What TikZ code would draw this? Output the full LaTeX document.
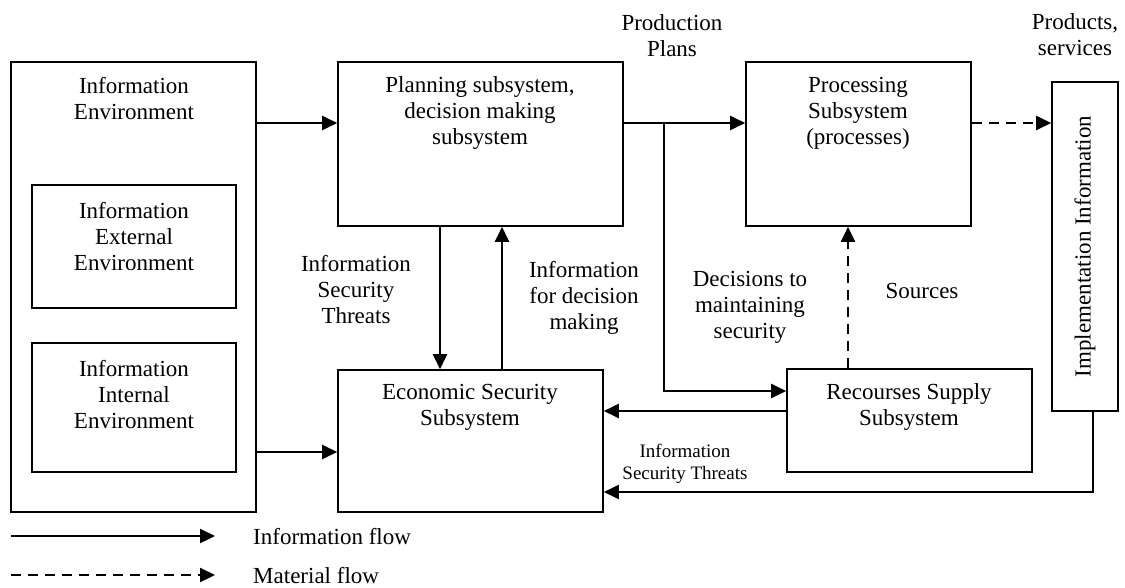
\documentclass[tikz,border=0pt]{standalone}
\usepackage{fontspec}
\setmainfont{Liberation Serif}
\usetikzlibrary{arrows.meta}
\begin{document}
\begin{tikzpicture}[x=1pt,y=-1pt,
  box/.style={draw, line width=1.6pt, inner sep=0pt},
  txt/.style={align=center, inner sep=0pt, font=\fontsize{23}{26}\selectfont},
  small/.style={align=center, inner sep=0pt, font=\fontsize{19}{22}\selectfont},
  info/.style={line width=2.3pt, -{Triangle[length=15pt,width=14pt]}},
  mat/.style={line width=2.3pt, dash pattern=on 10pt off 7pt, -{Triangle[length=15pt,width=14pt]}}]
\useasboundingbox (0,0) rectangle (1125,587);
% boxes
\node[box, minimum width=245pt, minimum height=450pt] (env) at (133.5,287) {};
\node[box, minimum width=204pt, minimum height=123pt] (ext) at (134,246.5) {};
\node[box, minimum width=204pt, minimum height=129pt] (int) at (134,407.5) {};
\node[box, minimum width=285pt, minimum height=164pt] (plan) at (480.5,144) {};
\node[box, minimum width=225pt, minimum height=164pt] (proc) at (858.5,144) {};
\node[box, minimum width=265pt, minimum height=142pt] (econ) at (470.5,441) {};
\node[box, minimum width=245pt, minimum height=103pt] (rec) at (909.5,420.5) {};
\node[box, minimum width=66pt, minimum height=329pt] (impl) at (1085,246.5) {};
% box texts
\node[txt] (envt) at (134,99) {Information\\Environment};
\node[txt] (extt) at (134,237) {Information\\External\\Environment};
\node[txt] (intt) at (134,395) {Information\\Internal\\Environment};
\node[txt] (plant) at (480,113) {Planning subsystem,\\decision making\\subsystem};
\node[txt] (proct) at (858,113) {Processing\\Subsystem\\(processes)};
\node[txt] (econt) at (470,407) {Economic Security\\Subsystem};
\node[txt] (rect) at (909,407) {Recourses Supply\\Subsystem};
\node[txt, rotate=90] (implt) at (1085,246.5) {Implementation Information};
% labels
\node[txt] (lprod) at (672,36) {Production\\Plans};
\node[txt] (lserv) at (1075,35) {Products,\\services};
\node[txt] (lthr) at (356,290) {Information\\Security\\Threats};
\node[txt] (ldec) at (584,298) {Information\\for decision\\making};
\node[txt] (lmaint) at (750,307) {Decisions to\\maintaining\\security};
\node[txt] (lsrc) at (922,291) {Sources};
\node[small] (lthr2) at (685,464) {Information\\Security Threats};
% helper coordinates
\coordinate (ya) at (0,123);
\coordinate (yb) at (0,452);
\coordinate (yc) at (0,391);
\coordinate (yd) at (0,411);
\coordinate (ye) at (0,492);
\coordinate (xb) at (664,0);
\coordinate (x1) at (440,0);
\coordinate (x2) at (502,0);
\coordinate (x3) at (1093,0);
\coordinate (x4) at (848,0);
% connectors
\draw[info] (env.east |- ya) -- (plan.west |- ya);
\draw[info] (env.east |- yb) -- (econ.west |- yb);
\draw[info] (plan.east |- ya) -- (proc.west |- ya);
\draw[info] (xb |- ya) -- (xb |- yc) -- (rec.west |- yc);
\draw[info] (x1 |- plan.south) -- (x1 |- econ.north);
\draw[info] (x2 |- econ.north) -- (x2 |- plan.south);
\draw[info] (rec.west |- yd) -- (econ.east |- yd);
\draw[info] (x3 |- impl.south) -- (x3 |- ye) -- (econ.east |- ye);
\draw[mat] (x4 |- rec.north) -- (x4 |- proc.south);
\draw[mat] (proc.east |- ya) -- (impl.west |- ya);
% legend
\coordinate (l1s) at (11,536);
\coordinate (l1e) at (215,536);
\coordinate (l2s) at (11,575);
\coordinate (l2e) at (215,575);
\draw[info] (l1s) -- (l1e);
\draw[mat] (l2s) -- (l2e);
\node[txt, anchor=west] (leg1) at (253,537) {Information flow};
\node[txt, anchor=west] (leg2) at (253,576) {Material flow};
\end{tikzpicture}
\end{document}
